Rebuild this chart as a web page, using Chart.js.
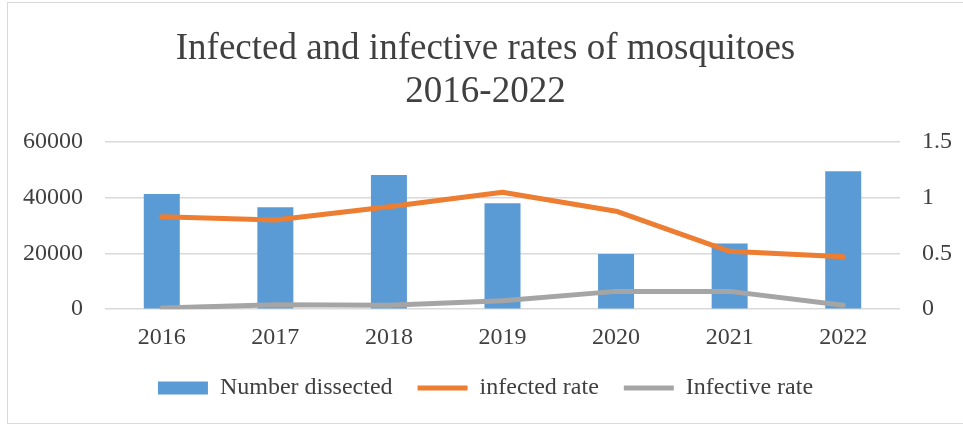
<!DOCTYPE html>
<html>
<head>
<meta charset="utf-8">
<script src="https://cdn.jsdelivr.net/npm/chart.js@4.4.1/dist/chart.umd.min.js"></script>
<style>
  html, body { margin: 0; padding: 0; background: #ffffff; }
  #wrap { position: relative; width: 963px; height: 425px; overflow: hidden; }
  #frame { position: absolute; left: 7px; top: 2px; width: 970px; height: 422px; border: 1px solid #d9d9d9; box-sizing: border-box; pointer-events: none; }
  canvas { position: absolute; left: 0; top: 0; }
</style>
</head>
<body>
<div id="wrap">
  <canvas id="c" width="963" height="425"></canvas>
  <div id="frame"></div>
</div>
<script>
const years = ['2016', '2017', '2018', '2019', '2020', '2021', '2022'];
const numberDissected = [41400, 36600, 48200, 38000, 19800, 23600, 49500];
const infectedRate = [0.83, 0.80, 0.92, 1.05, 0.88, 0.52, 0.47];
const infectiveRate = [0.01, 0.04, 0.035, 0.075, 0.16, 0.16, 0.035];
const leftTicks = [0, 20000, 40000, 60000];
const rightTicks = [0, 0.5, 1, 1.5];

const FONT = '"Liberation Serif", "Times New Roman", serif';
const TXT = '#404040';

new Chart(document.getElementById('c'), {
  type: 'bar',
  data: {
    labels: years,
    datasets: [
      {
        label: 'Number dissected',
        data: numberDissected,
        backgroundColor: '#5b9bd5',
        borderWidth: 0,
        yAxisID: 'y',
        categoryPercentage: 1,
        barPercentage: 0.317,
        pointStyle: 'rect',
        order: 3
      },
      {
        type: 'line',
        label: 'infected rate',
        data: infectedRate,
        borderColor: '#ed7d31',
        backgroundColor: '#ed7d31',
        borderWidth: 5,
        borderCapStyle: 'round',
        borderJoinStyle: 'round',
        pointRadius: 0,
        pointHoverRadius: 0,
        pointStyle: 'line',
        tension: 0,
        yAxisID: 'y1',
        order: 1
      },
      {
        type: 'line',
        label: 'Infective rate',
        data: infectiveRate,
        borderColor: '#a5a5a5',
        backgroundColor: '#a5a5a5',
        borderWidth: 5,
        borderCapStyle: 'round',
        borderJoinStyle: 'round',
        pointRadius: 0,
        pointHoverRadius: 0,
        pointStyle: 'line',
        tension: 0,
        yAxisID: 'y1',
        order: 2
      }
    ]
  },
  options: {
    responsive: false,
    animation: false,
    devicePixelRatio: 1,
    layout: { padding: { left: 8, right: 0, top: 4, bottom: 15 } },
    plugins: {
      title: {
        display: true,
        text: ['Infected and infective rates of mosquitoes', '2016-2022'],
        color: TXT,
        font: { family: FONT, size: 37, weight: 'normal', lineHeight: 1.15 },
        padding: { top: 24, bottom: 29 }
      },
      legend: {
        position: 'bottom',
        labels: {
          usePointStyle: true,
          pointStyleWidth: 50,
          boxHeight: 13,
          padding: 25,
          color: TXT,
          font: { family: FONT, size: 24 },
          sort: (a, b) => a.datasetIndex - b.datasetIndex
        }
      },
      tooltip: { enabled: false }
    },
    scales: {
      x: {
        grid: { display: false, drawTicks: false },
        border: { display: false },
        ticks: { color: TXT, font: { family: FONT, size: 24 }, padding: 14 },
        afterFit: (s) => { s.height = s.height - 15; }
      },
      y: {
        position: 'left',
        min: 0,
        max: 60000,
        afterBuildTicks: (s) => { s.ticks = leftTicks.map(v => ({ value: v })); },
        afterFit: (s) => { s.width = 97; },
        grid: { color: '#d9d9d9', lineWidth: 1.5, drawTicks: false },
        border: { display: false },
        ticks: { color: TXT, font: { family: FONT, size: 24 }, padding: 22, callback: (v) => String(v) }
      },
      y1: {
        position: 'right',
        min: 0,
        max: 1.5,
        afterBuildTicks: (s) => { s.ticks = rightTicks.map(v => ({ value: v })); },
        afterFit: (s) => { s.width = 63; },
        grid: { drawOnChartArea: false, drawTicks: false },
        border: { display: false },
        ticks: { color: TXT, font: { family: FONT, size: 24 }, padding: 22, callback: (v) => String(v) }
      }
    }
  }
});
</script>
</body>
</html>
